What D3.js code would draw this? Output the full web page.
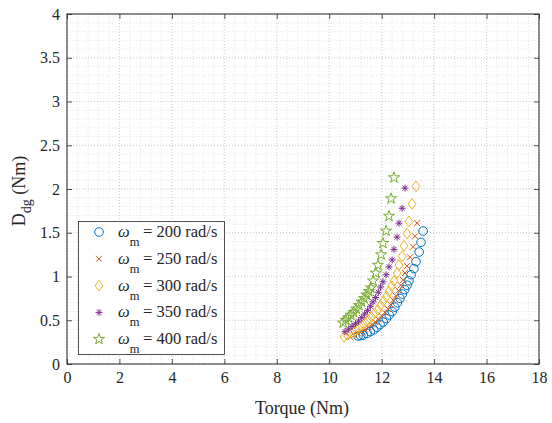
<!DOCTYPE html>
<html><head><meta charset="utf-8">
<script src="https://cdn.jsdelivr.net/npm/d3@7"></script>
<style>body{margin:0;background:#fff}svg{display:block}text{fill:#262626}</style>
</head><body><svg id="c" width="552" height="423"></svg>
<script>
const seriesNames = ["200", "250", "300", "350", "400"];
const colors = ["#0072BD", "#D95319", "#EDB120", "#7E2F8E", "#77AC30"];
const markers = ["circle", "cross", "diamond", "asterisk", "star"];
const xTicks = [0,2,4,6,8,10,12,14,16,18];
const yTicks = [0,0.5,1,1.5,2,2.5,3,3.5,4];

const torque200 = [11.10,11.20,11.30,11.44,11.57,11.70,11.82,11.94,12.06,12.18,12.29,12.40,12.50,12.60,12.70,12.79,12.88,12.97,13.04,13.12,13.23,13.31,13.43,13.50,13.58];
const dg200     = [0.32,0.325,0.33,0.35,0.37,0.39,0.42,0.45,0.48,0.52,0.56,0.60,0.65,0.70,0.75,0.80,0.85,0.90,0.95,1.02,1.09,1.17,1.28,1.39,1.52];
const torque250 = [10.79,10.94,11.09,11.23,11.37,11.50,11.63,11.76,11.88,12.00,12.12,12.23,12.34,12.44,12.54,12.64,12.73,12.82,12.89,12.97,13.08,13.20,13.27,13.35];
const dg250     = [0.31,0.33,0.35,0.37,0.39,0.42,0.45,0.48,0.51,0.55,0.59,0.63,0.68,0.73,0.78,0.84,0.90,0.96,1.04,1.12,1.22,1.34,1.46,1.61];
const torque300 = [10.57,10.70,10.84,10.98,11.11,11.24,11.37,11.49,11.61,11.73,11.85,11.96,12.07,12.18,12.28,12.38,12.47,12.59,12.66,12.78,12.85,12.97,13.04,13.16,13.31];
const dg300     = [0.31,0.33,0.35,0.38,0.41,0.44,0.47,0.50,0.54,0.58,0.62,0.67,0.72,0.77,0.83,0.89,0.95,1.04,1.13,1.23,1.35,1.49,1.63,1.83,2.03];
const torque350 = [10.60,10.74,10.87,11.00,11.12,11.24,11.35,11.46,11.57,11.67,11.77,11.87,11.96,12.05,12.17,12.28,12.40,12.47,12.59,12.66,12.78,12.89];
const dg350     = [0.37,0.40,0.43,0.46,0.49,0.53,0.57,0.61,0.66,0.71,0.76,0.82,0.88,0.94,1.02,1.11,1.19,1.31,1.45,1.61,1.78,2.01];
const torque400 = [10.53,10.63,10.73,10.83,10.93,11.03,11.13,11.23,11.33,11.42,11.51,11.59,11.67,11.78,11.86,11.98,12.05,12.17,12.28,12.36,12.47];
const dg400     = [0.47,0.50,0.53,0.56,0.59,0.63,0.67,0.71,0.75,0.79,0.83,0.87,0.95,1.04,1.13,1.25,1.38,1.52,1.69,1.89,2.13];

const torques = [torque200, torque250, torque300, torque350, torque400];
const dgs = [dg200, dg250, dg300, dg350, dg400];

const FONT = "Liberation Serif, Times New Roman, Times, Tinos, Nimbus Roman, Noto Serif, DejaVu Serif, serif";
const svg = d3.select("#c").style("font-family", FONT);
const L = 67, R = 539, T = 14, B = 364;
const x = d3.scaleLinear().domain([0,18]).range([L,R]);
const y = d3.scaleLinear().domain([0,4]).range([B,T]);

// grid (minor then major), dotted
const g = svg.append("g");
d3.range(0, 18.001, 0.4).forEach(v => g.append("line").attr("x1", x(v)).attr("x2", x(v)).attr("y1", T).attr("y2", B)
  .attr("stroke", "#d4d4d4").attr("stroke-width", 0.6).attr("stroke-dasharray", "1,2"));
d3.range(0, 4.001, 0.1).forEach(v => g.append("line").attr("y1", y(v)).attr("y2", y(v)).attr("x1", L).attr("x2", R)
  .attr("stroke", "#d4d4d4").attr("stroke-width", 0.6).attr("stroke-dasharray", "1,2"));
xTicks.forEach(v => g.append("line").attr("x1", x(v)).attr("x2", x(v)).attr("y1", T).attr("y2", B)
  .attr("stroke", "#c4c4c4").attr("stroke-width", 0.7).attr("stroke-dasharray", "1,2"));
yTicks.forEach(v => g.append("line").attr("y1", y(v)).attr("y2", y(v)).attr("x1", L).attr("x2", R)
  .attr("stroke", "#c4c4c4").attr("stroke-width", 0.7).attr("stroke-dasharray", "1,2"));

// axes
const ax = svg.append("g").attr("transform", `translate(0,${B})`)
  .call(d3.axisBottom(x).tickValues(xTicks).tickSize(-5).tickPadding(8).tickFormat(d3.format("d")));
const axT = svg.append("g").attr("transform", `translate(0,${T})`)
  .call(d3.axisTop(x).tickValues(xTicks).tickSize(-5).tickFormat(""));
const ay = svg.append("g").attr("transform", `translate(${L},0)`)
  .call(d3.axisLeft(y).tickValues(yTicks).tickSize(-5).tickPadding(7).tickFormat(d => d));
const ayR = svg.append("g").attr("transform", `translate(${R},0)`)
  .call(d3.axisRight(y).tickValues(yTicks).tickSize(-5).tickFormat(""));
[ax, axT, ay, ayR].forEach(a => {
  a.attr("font-family", null).attr("font-size", 16);
  a.selectAll("line").attr("stroke", "#262626").attr("stroke-width", 0.8);
  a.selectAll("text").style("font-family", FONT).attr("font-size", 16).attr("fill", "#262626");
});
svg.selectAll(".domain").remove();
svg.append("rect").attr("x", L).attr("y", T).attr("width", R-L).attr("height", B-T)
  .attr("fill", "none").attr("stroke", "#262626").attr("stroke-width", 1);

// marker symbols
function drawMarker(sel, type, color, cx, cy) {
  const grp = sel.append("g").attr("transform", `translate(${cx},${cy})`)
    .attr("fill", "none").attr("stroke", color).attr("stroke-width", 1);
  if (type === "circle") grp.append("circle").attr("r", 4.3);
  else if (type === "cross") { const s = 3; grp.append("path").attr("d", `M${-s},${-s}L${s},${s}M${-s},${s}L${s},${-s}`); }
  else if (type === "diamond") { const s = 5.3; grp.append("path").attr("d", `M0,${-s}L${s*0.75},0L0,${s}L${-s*0.75},0Z`); }
  else if (type === "asterisk") { const s = 3.5, d = s*0.707;
    grp.append("path").attr("d", `M${-s},0L${s},0M0,${-s}L0,${s}M${-d},${-d}L${d},${d}M${-d},${d}L${d},${-d}`); }
  else if (type === "star") { grp.append("path").attr("d", d3.symbol(d3.symbolStar, 38)()); }
}

const plot = svg.append("g");
torques.forEach((ts, i) => {
  ts.forEach((t, j) => drawMarker(plot, markers[i], colors[i], x(t), y(dgs[i][j])));
});

// labels
svg.append("text").attr("x", (L+R)/2 - 1).attr("y", 414).attr("text-anchor", "middle")
  .style("font-family", FONT).attr("font-size", 18).text("Torque (Nm)");
const yl = svg.append("text").attr("transform", `translate(25,${(T+B)/2 + 2}) rotate(-90)`).attr("text-anchor", "middle")
  .style("font-family", FONT).attr("font-size", 18);
yl.append("tspan").text("D");
yl.append("tspan").attr("dy", 6).attr("font-size", 14).text("dg");
yl.append("tspan").attr("dy", -6).text(" (Nm)");

// legend
const lg = svg.append("g");
lg.append("rect").attr("x", 78.5).attr("y", 221.5).attr("width", 146).attr("height", 133)
  .attr("fill", "#fff").attr("stroke", "#262626").attr("stroke-width", 0.8);
seriesNames.forEach((n, i) => {
  const cy = 232 + i*26.8;
  drawMarker(lg, markers[i], colors[i], 99, cy);
  const t = lg.append("text").attr("x", 118).attr("y", cy + 5).style("font-family", FONT).attr("font-size", 16.5);
  t.append("tspan").attr("font-style", "italic").text("ω");
  t.append("tspan").attr("dy", 9).attr("font-size", 12.5).text("m");
  t.append("tspan").attr("x", 143).attr("dy", -9).text(`= ${n} rad/s`);
});
</script></body></html>
